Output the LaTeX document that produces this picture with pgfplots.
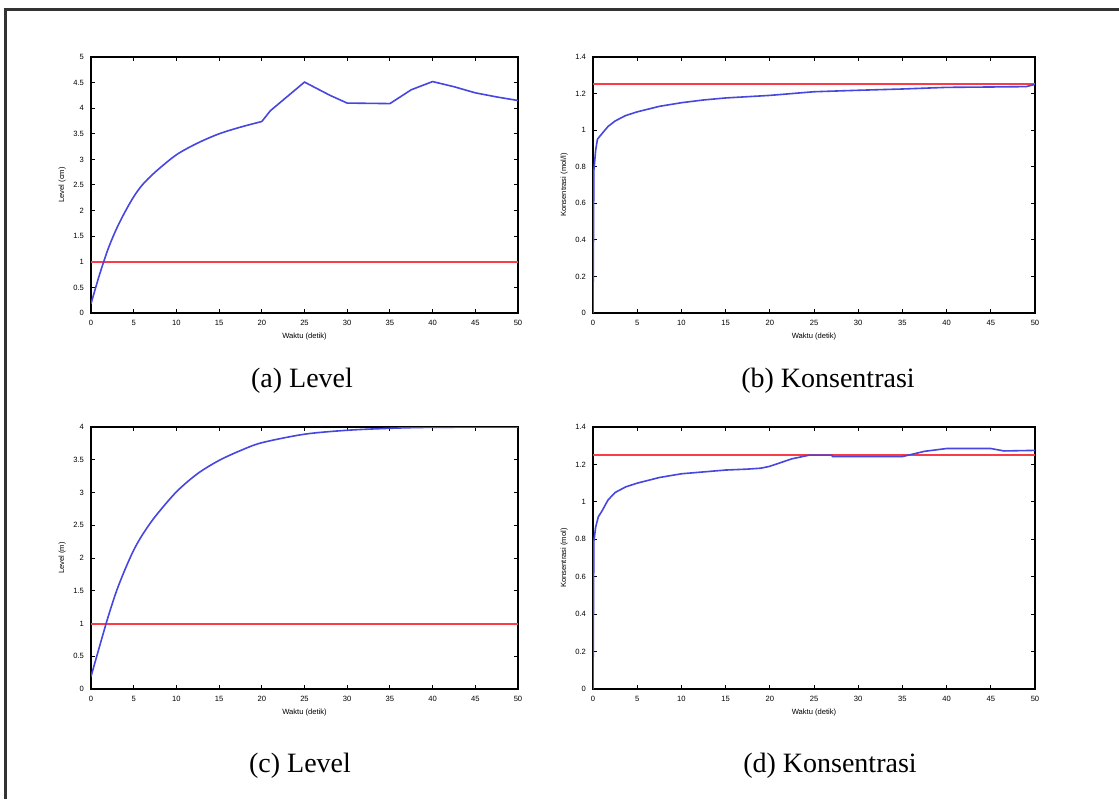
\documentclass[border=0pt]{standalone}
\usepackage{pgfplots}
\pgfplotsset{compat=1.18}
\usepackage{fontspec}
\setmainfont{Liberation Serif}
\newfontfamily\axfont{Liberation Sans}
\definecolor{mblue}{RGB}{70,70,225}
\definecolor{mred}{RGB}{250,60,70}
\pgfplotsset{
  mstyle/.style={
    scale only axis, xmin=0, xmax=50, xtick={0,5,...,50},
    tick align=inside, major tick length=2pt,
    tick style={black, line width=0.5pt},
    axis line style={black, line width=0.7pt},
    ticklabel style={font=\axfont\fontsize{3.8}{4}\selectfont},
    label style={font=\axfont\fontsize{3.8}{4}\selectfont},
    /pgf/number format/assume math mode=true,
    xlabel={Waktu (detik)},
    xlabel style={yshift=3pt},
    ylabel style={yshift=-3pt},
    scaled ticks=false,
    anchor=south west,
  },
  bl/.style={mblue, line width=0.8pt},
  rl/.style={mred, line width=1pt},
}
\begin{document}
\begin{tikzpicture}
\useasboundingbox (0,0) rectangle (559.5pt,399.5pt);
\fill[white] (0,0) rectangle (559.5pt,399.5pt);
\draw[line width=1.5pt, black!80] (2.5pt,0) -- (2.5pt,394.5pt) -- (559.5pt,394.5pt);

% (a)
\begin{axis}[mstyle, at={(45.5pt,243pt)}, width=213.5pt, height=128pt,
  ymin=0, ymax=5, ytick={0,0.5,...,5}, ylabel={Level (cm)}]
\addplot[rl] coordinates {(0,1) (50,1)};
\addplot[bl, smooth] coordinates {
(0,0.18) (1,0.75) (2,1.25) (3,1.65) (4,1.98) (5,2.27) (6,2.5) (7.5,2.75) (10,3.09)
(12.5,3.32) (15,3.5) (17.5,3.63) (20,3.74)};
\addplot[bl] coordinates {(20,3.74) (21,3.95) (25,4.51) (28,4.25) (30,4.1) (35,4.09) (37.5,4.36) (40,4.52) (42.5,4.42) (45,4.3) (47.5,4.22) (50,4.15)};
\end{axis}

% (b)
\begin{axis}[mstyle, at={(296.5pt,243pt)}, width=221pt, height=128pt,
  ymin=0, ymax=1.4, ytick={0,0.2,...,1.4}, ylabel={Konsentrasi (mol/l)},
  yticklabel style={/pgf/number format/fixed}]
\addplot[rl] coordinates {(0,1.25) (50,1.25)};
\addplot[bl] coordinates {(0,0) (0.1,0.78) (0.3,0.89) (0.5,0.95) (1,0.98) (1.7,1.02) (2.5,1.05) (3.7,1.08) (5,1.10) (7.5,1.13) (10,1.15) (12.5,1.165) (15,1.176) (17.5,1.183) (20,1.19) (22.5,1.20) (25,1.21) (30,1.218) (35,1.225) (40,1.234) (45,1.236) (49,1.238) (50,1.25)};
\end{axis}

% (c)
\begin{axis}[mstyle, at={(45.5pt,55pt)}, width=213.5pt, height=131pt,
  ymin=0, ymax=4, ytick={0,0.5,...,4}, ylabel={Level (m)}]
\addplot[rl] coordinates {(0,1) (50,1)};
\addplot[bl, smooth] coordinates {
(0,0.19) (1,0.65) (2,1.1) (3,1.5) (4,1.83) (5,2.12) (6,2.35) (7.5,2.63) (10,3.01)
(12.5,3.29) (15,3.49) (17.5,3.64) (20,3.76) (25,3.89) (30,3.95) (35,3.98) (40,3.995) (50,4.0)};
\end{axis}

% (d)
\begin{axis}[mstyle, at={(296.5pt,55pt)}, width=221pt, height=131pt,
  ymin=0, ymax=1.4, ytick={0,0.2,...,1.4}, ylabel={Konsentrasi (mol)},
  yticklabel style={/pgf/number format/fixed}]
\addplot[rl] coordinates {(0,1.25) (50,1.25)};
\addplot[bl] coordinates {(0,0) (0.1,0.79) (0.3,0.865) (0.6,0.92) (1,0.95) (1.7,1.01) (2.5,1.05) (3.7,1.08) (5,1.10) (7.5,1.13) (10,1.15) (12.5,1.16) (15,1.17) (17.5,1.175) (19,1.18) (20,1.19) (22.5,1.23) (24.5,1.25) (27,1.25) (27.1,1.242) (35,1.242) (37.5,1.27) (40,1.285) (45,1.285) (46.5,1.272) (50,1.275)};
\end{axis}

\node[font=\fontsize{14}{16}\selectfont] at (151pt,209pt) {(a) Level};
\node[font=\fontsize{14}{16}\selectfont] at (414pt,209pt) {(b) Konsentrasi};
\node[font=\fontsize{14}{16}\selectfont] at (150pt,16.5pt) {(c) Level};
\node[font=\fontsize{14}{16}\selectfont] at (415pt,16.5pt) {(d) Konsentrasi};
\end{tikzpicture}
\end{document}
